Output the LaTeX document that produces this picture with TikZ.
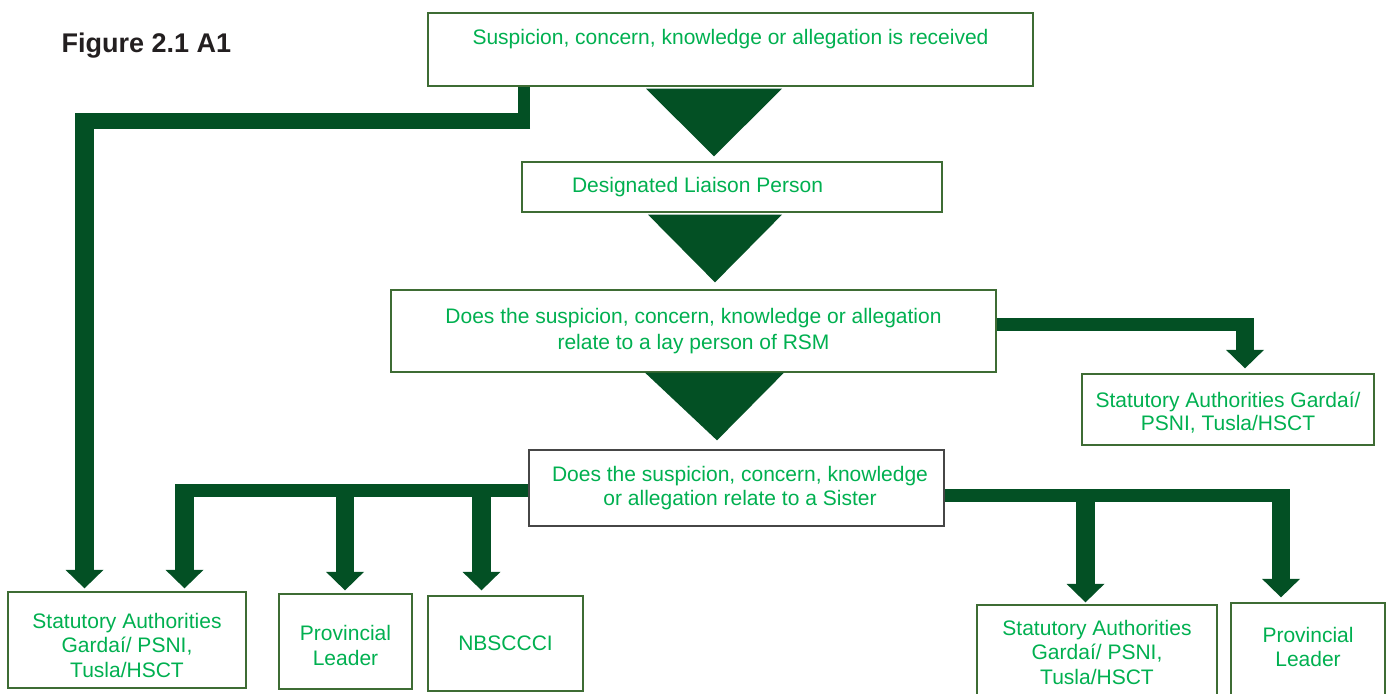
\documentclass[tikz,border=0pt]{standalone}
\usepackage{fontspec}
\setmainfont{Liberation Sans}
\usetikzlibrary{arrows.meta,calc}
\definecolor{connc}{RGB}{3,80,36}
\definecolor{txtc}{RGB}{0,176,80}
\definecolor{boxc}{RGB}{62,108,52}
\definecolor{greyc}{RGB}{70,70,70}
\definecolor{titlec}{RGB}{35,31,32}
% invisible struts that nudge a text block inside its box
\newcommand\padtop[1]{\rule{0pt}{#1}}
\newcommand\padbottom[1]{\rule[-#1]{0pt}{0pt}}
\begin{document}
\begin{tikzpicture}[x=1pt,y=-1pt,
  box/.style={draw=boxc, line width=1.3pt, fill=white, text=txtc, inner sep=0pt,
    align=center, font=\fontsize{21}{24.5}\selectfont},
  titlestyle/.style={text=titlec, inner sep=0pt, font=\fontsize{27}{31}\selectfont\bfseries},
  trunk/.style={draw=connc, line width=13pt},
  drop/.style={draw=connc, line width=18.5pt,
    -{Triangle[width=38pt,length=18.5pt,line width=0pt]}},
  bigtip/.style={fill=connc}]
\useasboundingbox (0,0) rectangle (1391,693);
\clip (0,0) rectangle (1391,693);

% title
\node[titlestyle, anchor=west] (ttl) at (61.5,45.5) {Figure 2.1 A1};

% boxes of the main column
\node[box, minimum width=605pt, text height=32pt, text depth=41pt] (b1) at (730.5,49.5)
  {Suspicion, concern, knowledge or allegation is received};
\node[box, minimum height=50pt] (b2) at (732,187)
  {\makebox[420pt][l]{\hspace{50pt}Designated Liaison Person}};
\node[box, minimum width=605pt, minimum height=82pt] (b3) at (693.5,331)
  {Does the suspicion, concern, knowledge or allegation\\[1.5pt]relate to a lay person of RSM};
\node[box, draw=greyc, minimum width=415pt, minimum height=76pt] (b4) at (736.5,488)
  {\hspace*{7pt}Does the suspicion, concern, knowledge\\\hspace*{7pt}or allegation relate to a Sister};

% outcome boxes
\node[box, minimum width=292pt, minimum height=71pt] (r1) at (1228,409.5)
  {\padtop{21.5pt}Statutory Authorities Gardaí/\\[-1pt]PSNI, Tusla/HSCT};
\node[box, minimum width=238pt, minimum height=96pt] (l1) at (127,640)
  {\padtop{25.5pt}Statutory Authorities\\Gardaí/ PSNI,\\Tusla/HSCT};
\node[box, minimum width=133pt, minimum height=95pt] (p1) at (345.5,641.5)
  {\padtop{23.5pt}Provincial\\Leader};
\node[box, minimum width=155pt, minimum height=95pt] (n1) at (505.5,643.5)
  {NBSCCCI};
\node[box, minimum width=240pt, minimum height=94pt] (s2) at (1097,652)
  {Statutory Authorities\\Gardaí/ PSNI,\\Tusla/HSCT};
\node[box, minimum width=154pt, minimum height=96pt] (p2) at (1308,651)
  {Provincial\\Leader\padbottom{8pt}};

% big downward triangles between the main steps
\fill[bigtip] ($(b1.south)+(-84.5,2)$) -- ($(b1.south)+(51.5,2)$)
  -- ($(b2.north)+(-18,-5)$) -- cycle;
\fill[bigtip] ($(b2.south)+(-84,2)$) -- ($(b2.south)+(50,2)$)
  -- ($(b3.north)+(21.5,-7)$) -- cycle;
\fill[bigtip] ($(b3.south)+(-48.5,0)$) -- ($(b3.south)+(90.5,0)$)
  -- ($(b4.north)+(-19.5,-9)$) -- cycle;

% direct route from the first box to the statutory authorities
\coordinate (kA) at (524,129);
\coordinate (kT1) at (530,121);
\coordinate (kT2) at (75,121);
\coordinate (kD) at (84.5,113);
\draw[connc, line width=12pt] (b1.south -| kA) -- (kA);
\draw[connc, line width=16pt] (kT1) -- (kT2);
\draw[drop, shorten >=3pt] (kD) -- (kD |- l1.north);

% lay person branch
\coordinate (rT) at (1254,324.5);
\coordinate (rD) at (1245,318);
\draw[trunk] (b3.east |- rT) -- (rT);
\draw[drop, shorten >=5pt] (rD) -- (rD |- r1.north);

% sister branch, left side
\coordinate (tL) at (175,490.5);
\coordinate (dL) at (184.5,484);
\coordinate (dP) at (345,490.5);
\coordinate (dN) at (481.5,490.5);
\draw[trunk] (b4.west |- tL) -- (tL);
\draw[drop, shorten >=3pt] (dL) -- (dL |- l1.north);
\draw[drop, shorten >=3pt] (dP) -- (dP |- p1.north);
\draw[drop, shorten >=5pt] (dN) -- (dN |- n1.north);

% sister branch, right side
\coordinate (tR) at (1290,495.5);
\coordinate (dR) at (1281,489);
\coordinate (dS) at (1085.5,495.5);
\draw[trunk] (b4.east |- tR) -- (tR);
\draw[drop, shorten >=5pt] (dR) -- (dR |- p2.north);
\draw[drop, shorten >=2pt] (dS) -- (dS |- s2.north);
\end{tikzpicture}
\end{document}
